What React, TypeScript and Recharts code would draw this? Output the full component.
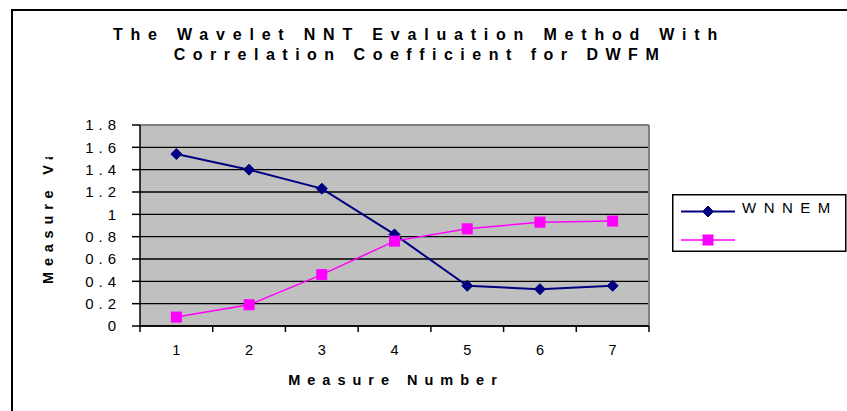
import { LineChart, Line, XAxis, YAxis, CartesianGrid, Legend, ReferenceLine } from "recharts"

const measureNumbers = [1, 2, 3, 4, 5, 6, 7]
const wnnemValues = [1.54, 1.4, 1.23, 0.82, 0.36, 0.33, 0.36]
const correlationValues = [0.08, 0.19, 0.46, 0.76, 0.87, 0.93, 0.94]
const yTicks = [0, 0.2, 0.4, 0.6, 0.8, 1, 1.2, 1.4, 1.6, 1.8]
const seriesNames = ["WNNEM", ""]
const titleLines = ["The Wavelet NNT Evaluation Method With", "Correlation Coefficient for DWFM"]
const xTitle = "Measure Number"
const yTitle = "Measure Value"

const data = measureNumbers.map((n, i) => ({
  n,
  wnnem: wnnemValues[i],
  corr: correlationValues[i],
}))

const W = 847
const H = 411
const PLOT_LEFT = 140
const PLOT_RIGHT = 649
const PLOT_TOP = 125
const PLOT_BOTTOM = 326
const NAVY = "#000080"
const PINK = "#ff00ff"
const FRAME = "#808080"
const FONT = "Arial, 'Liberation Sans', sans-serif"
const HALF_BAND = (PLOT_RIGHT - PLOT_LEFT) / measureNumbers.length / 2

const Diamond = (p: any) => {
  const { cx, cy } = p
  if (cx == null || cy == null) return null
  const r = 5.5
  return <path d={`M${cx},${cy - r}L${cx + r},${cy}L${cx},${cy + r}L${cx - r},${cy}Z`} fill={NAVY} stroke={NAVY} />
}

const Square = (p: any) => {
  const { cx, cy } = p
  if (cx == null || cy == null) return null
  return <rect x={cx - 5} y={cy - 5} width={10} height={10} fill={PINK} stroke={PINK} />
}

// Excel style: label in the middle of the band, tick marks on the band edges
const XTick = (p: any) => {
  const { x, y, payload, index } = p
  const last = index === measureNumbers.length - 1
  return (
    <g>
      <line x1={x - HALF_BAND} x2={x - HALF_BAND} y1={y - 6} y2={y} stroke="#000" strokeWidth={1.5} />
      {last && <line x1={x + HALF_BAND} x2={x + HALF_BAND} y1={y - 6} y2={y} stroke="#000" strokeWidth={1.5} />}
      <text x={x} y={y + 23} textAnchor="middle" fontSize={14.5} fill="#000" fontFamily={FONT}>
        {payload.value}
      </text>
    </g>
  )
}

const LegendBox = () => (
  <svg width={175} height={58} style={{ display: "block" }}>
    <rect x={0.75} y={0.75} width={173} height={56.5} fill="#fff" stroke="#000" strokeWidth={1.5} />
    <line x1={9} x2={63} y1={17.5} y2={17.5} stroke={NAVY} strokeWidth={2} />
    <Diamond cx={36} cy={17.5} />
    <text x={70} y={19} fontSize={15} fill="#000" fontFamily={FONT} letterSpacing={7.5}>
      {seriesNames[0]}
    </text>
    <line x1={9} x2={63} y1={46} y2={46} stroke={PINK} strokeWidth={1.5} />
    <Square cx={36} cy={46} />
    <text x={70} y={50} fontSize={15} fill="#000" fontFamily={FONT} letterSpacing={7.5}>
      {seriesNames[1]}
    </text>
  </svg>
)

export default function App() {
  return (
    <div style={{ position: "absolute", left: 0, top: 0, width: W, height: H, overflow: "hidden", background: "#fff", fontFamily: FONT }}>
      <div style={{ position: "absolute", left: 11, top: 9, width: W, height: H, borderLeft: "2px solid #000", borderTop: "2px solid #000" }} />
      <LineChart
        width={W}
        height={H}
        data={data}
        margin={{ top: PLOT_TOP, right: W - PLOT_RIGHT, bottom: 55, left: 0 }}
        style={{ position: "absolute", left: 0, top: 0 }}
      >
        <CartesianGrid vertical={false} fill="#c0c0c0" fillOpacity={1} stroke="#000" strokeWidth={1.3} />
        <XAxis
          dataKey="n"
          type="number"
          domain={[0.5, 7.5]}
          ticks={measureNumbers}
          height={H - PLOT_BOTTOM - 55}
          axisLine={{ stroke: "#000", strokeWidth: 1.5 }}
          tickLine={false}
          tickSize={6}
          tickMargin={0}
          tick={<XTick />}
          interval={0}
        />
        <YAxis
          type="number"
          domain={[0, 1.8]}
          ticks={yTicks}
          width={PLOT_LEFT}
          tickFormatter={(v) => String(v)}
          axisLine={{ stroke: "#000", strokeWidth: 1.5 }}
          tickLine={{ stroke: "#000", strokeWidth: 1.5 }}
          tickSize={8}
          tickMargin={11}
          tick={{ fontSize: 15, fill: "#000", fontFamily: FONT, letterSpacing: 5 }}
          interval={0}
        />
        <ReferenceLine y={1.8} stroke={FRAME} strokeWidth={2} />
        <ReferenceLine x={7.5} stroke={FRAME} strokeWidth={2} />
        <Legend
          layout="horizontal"
          align="center"
          verticalAlign="middle"
          content={() => <LegendBox />}
          wrapperStyle={{ position: "absolute", left: 672, top: 194, width: 175, height: 58 }}
        />
        <Line
          dataKey="wnnem"
          name={seriesNames[0]}
          stroke={NAVY}
          strokeWidth={2}
          dot={<Diamond />}
          activeDot={false}
          isAnimationActive={false}
        />
        <Line
          dataKey="corr"
          name={seriesNames[1]}
          stroke={PINK}
          strokeWidth={1.5}
          dot={<Square />}
          activeDot={false}
          isAnimationActive={false}
        />
        <g fontFamily={FONT} fill="#000" fontWeight="bold">
          <text x={419} y={40} textAnchor="middle" fontSize={16} letterSpacing={7.8}>
            {titleLines[0]}
          </text>
          <text x={420} y={59.5} textAnchor="middle" fontSize={16} letterSpacing={7.5}>
            {titleLines[1]}
          </text>
          <text x={396} y={385} textAnchor="middle" fontSize={14.5} letterSpacing={7}>
            {xTitle}
          </text>
          <defs>
            <clipPath id="ytitle-clip">
              <rect x={0} y={157} width={80} height={200} />
            </clipPath>
          </defs>
          <g clipPath="url(#ytitle-clip)">
            <text x={53} y={284} transform="rotate(-90, 53, 284)" fontSize={14.5} letterSpacing={5.8}>
              {yTitle}
            </text>
          </g>
        </g>
      </LineChart>
    </div>
  )
}
